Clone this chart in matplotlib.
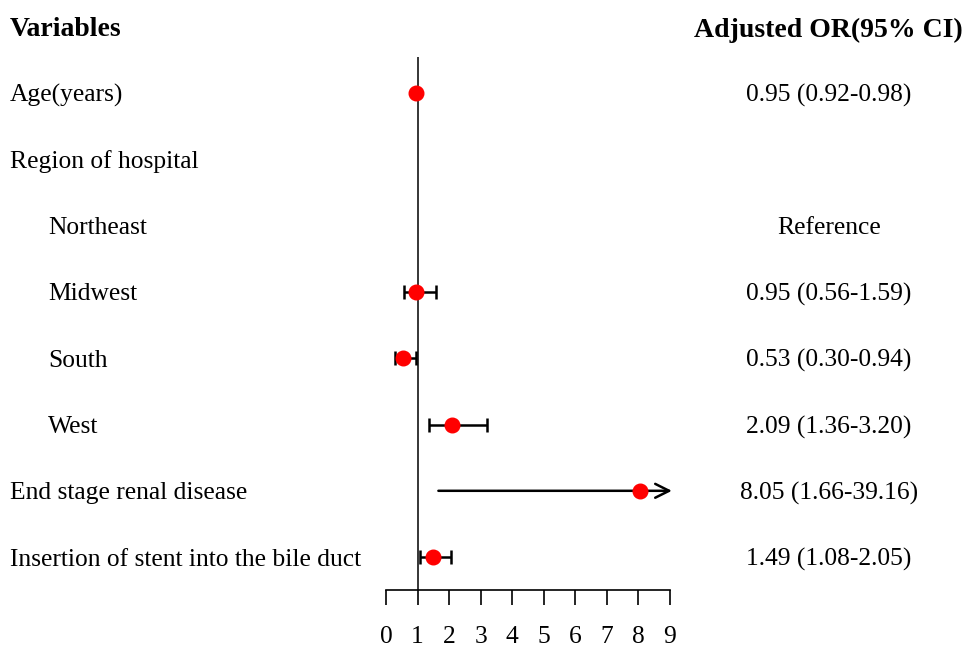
import matplotlib
matplotlib.use('Agg')
import matplotlib.pyplot as plt
from matplotlib.transforms import blended_transform_factory

plt.rcParams['font.family'] = ['Liberation Serif', 'DejaVu Serif']

# rows of the forest plot, top to bottom
labels = ['Age(years)', 'Region of hospital', 'Northeast', 'Midwest', 'South',
          'West', 'End stage renal disease', 'Insertion of stent into the bile duct']
indent = [False, False, True, True, True, True, False, False]
or_text = ['0.95 (0.92-0.98)', '', 'Reference', '0.95 (0.56-1.59)', '0.53 (0.30-0.94)',
           '2.09 (1.36-3.20)', '8.05 (1.66-39.16)', '1.49 (1.08-2.05)']
odds = [0.95, None, None, 0.95, 0.53, 2.09, 8.05, 1.49]
lower = [0.92, None, None, 0.56, 0.30, 1.36, 1.66, 1.08]
upper = [0.98, None, None, 1.59, 0.94, 3.20, 39.16, 2.05]
xticks = list(range(0, 10))
xmax = 9

W, H = 965, 647
fig = plt.figure(figsize=(W / 100, H / 100), dpi=100)
ax = fig.add_axes([386 / W, 57 / H, 284 / W, 533 / H])
row0, step = 93, 66.3
ax.set_xlim(0, xmax)
ax.set_ylim((590 - row0) / step, (57 - row0) / step)

for s in ['top', 'right', 'left']:
    ax.spines[s].set_visible(False)
ax.spines['bottom'].set_linewidth(1.2)
ax.set_yticks([])
ax.set_xticks(xticks)
ax.tick_params(axis='x', direction='out', length=11, width=1.2, pad=15, labelsize=18.4)

ax.axvline(1, color='black', lw=1.1, zorder=1)

fs = 18.4
tr = blended_transform_factory(fig.transFigure, ax.transData)
for i, lab in enumerate(labels):
    x = (48 if indent[i] else 10) / W
    ax.text(x, i, lab, transform=tr, ha='left', va='center_baseline', fontsize=fs, clip_on=False)
    if or_text[i]:
        ax.text(829 / W, i, or_text[i], transform=tr, ha='center', va='center_baseline',
                fontsize=fs, clip_on=False)
    if odds[i] is None:
        continue
    if upper[i] > xmax:
        # upper limit is off the scale: draw an arrow instead of a cap
        ax.annotate('', xy=(xmax + 0.06, i), xytext=(lower[i], i),
                    arrowprops=dict(arrowstyle='->,head_length=1.0,head_width=0.5',
                                    lw=1.8, color='black', shrinkA=0, shrinkB=0),
                    annotation_clip=False)
        ax.plot(odds[i], i, 'o', color='red', ms=10.5, zorder=3)
    else:
        ax.errorbar(odds[i], i, xerr=[[odds[i] - lower[i]], [upper[i] - odds[i]]],
                    fmt='o', color='red', ms=10.5, ecolor='black', elinewidth=1.8,
                    capsize=5, capthick=1.8, zorder=3)

head_y = (27 - row0) / step
ax.text(10 / W, head_y, 'Variables', transform=tr, ha='left', va='center_baseline',
        fontsize=20.0, fontweight='bold', clip_on=False)
ax.text(828 / W, head_y, 'Adjusted OR(95% CI)', transform=tr, ha='center',
        va='center_baseline', fontsize=20.0, fontweight='bold', clip_on=False)

fig.savefig('out.png', dpi=100)
